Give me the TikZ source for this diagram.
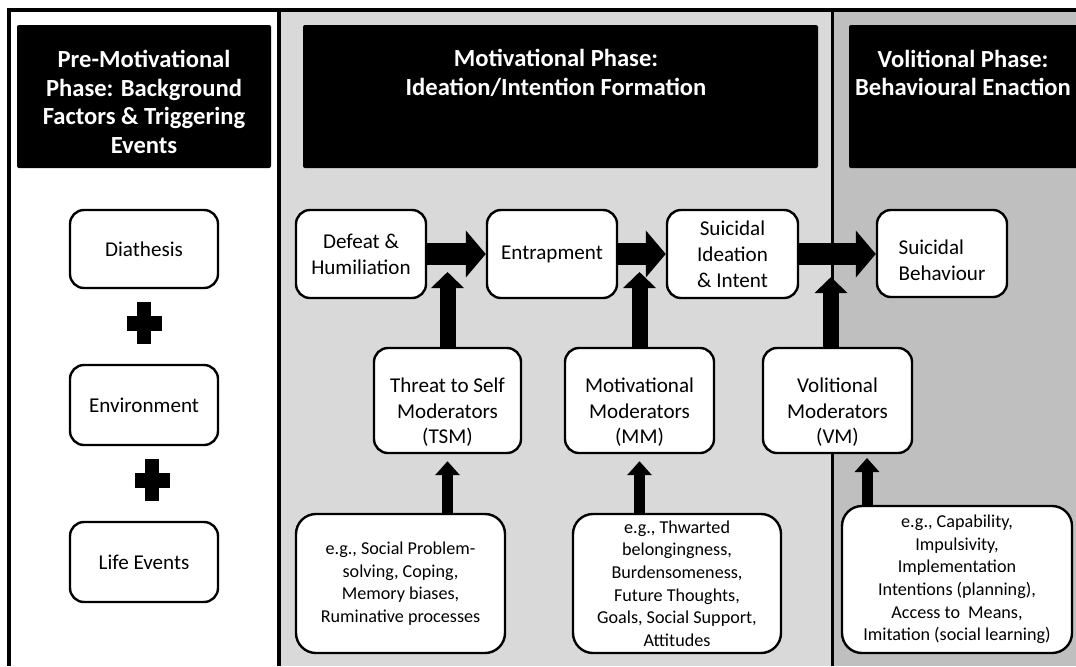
\documentclass[tikz,border=0pt]{standalone}
\usepackage{fontspec}
\setmainfont{Carlito}
\usepackage{tikz}
\usetikzlibrary{arrows.meta,positioning,calc}
\definecolor{motgrey}{HTML}{D9D9D9}
\definecolor{volgrey}{HTML}{BFBFBF}
\newcommand{\toppad}[1]{\rule{0pt}{#1}}
\tikzstyle{phase}=[fill=black, rounded corners=0.5mm]
\tikzstyle{phasetext}=[text=white, align=center, inner sep=0pt, font=\fontsize{17.5}{20.5}\selectfont\bfseries]
\tikzstyle{stagebox}=[draw, line width=0.6mm, rounded corners=3.5mm, fill=white, align=center, inner sep=0pt, font=\fontsize{15}{18.4}\selectfont]
\tikzstyle{modbox}=[stagebox, minimum height=26.25mm]
\tikzstyle{egbox}=[stagebox, rounded corners=5mm, font=\fontsize{12.9}{16.1}\selectfont]
\tikzstyle{fatarrow}=[line width=5.5mm, -{Triangle[width=11.5mm, length=5mm]}]
\tikzstyle{modarrow}=[line width=4mm, -{Triangle[width=8mm, length=4mm]}]
\tikzstyle{egarrow}=[line width=2.75mm, -{Triangle[width=6mm, length=3.5mm]}]
\tikzset{plussign/.pic={
    \fill (-17.5,-7.5) rectangle (17.5,7.5);
    \fill (-7,-21) rectangle (7,21);
}}

\begin{document}
\begin{tikzpicture}[x=0.25mm, y=-0.25mm]

\clip (0,0) rectangle (1076,666);

% panels
\fill[motgrey] (279,10) rectangle (832,666);
\fill[volgrey] (832,10) rectangle (1076,666);
\draw[line width=0.8mm, line join=miter] (9,666) -- (9,10) -- (1076,10);
\draw[line width=1mm] (279,10) -- (279,666);
\draw[line width=0.75mm] (832,10) -- (832,666);

% phase headers
\fill[phase] (17,25) rectangle (271,168);
\fill[phase] (303,25) rectangle (818,168);
\fill[phase] (849,25) rectangle (1090,168);
\node[phasetext] (pretitle) at (144,102) {Pre-Motivational\\Phase: Background\\Factors \& Triggering\\Events};
\node[phasetext] (mottitle) at (556,73) {Motivational Phase:\\Ideation/Intention Formation};
\node[phasetext] (voltitle) at (963,73) {Volitional Phase:\\Behavioural Enaction};

% background factors
\node[stagebox, minimum width=37mm, minimum height=19.5mm] (diath) at (144,249) {Diathesis};
\node[stagebox, minimum width=37mm, minimum height=20mm] (env) at (144,405) {Environment};
\node[stagebox, minimum width=37mm, minimum height=20mm] (life) at (144,562) {Life Events};
\pic at (144,323) {plussign};
\pic at (152,480) {plussign};

% main pathway
\node[stagebox, minimum width=32.5mm, minimum height=22mm] (defeat) at (361,254) {Defeat \&\\Humiliation};
\node[stagebox, minimum width=32.5mm, minimum height=22mm] (entrap) at (552,254) {Entrapment};
\node[stagebox, minimum width=32.75mm, minimum height=22mm] (ideat) at (732.5,254) {Suicidal\\Ideation\\\& Intent};
\node[stagebox, align=left, minimum width=32.5mm, minimum height=21.75mm] (behav) at (942,253.5) {\toppad{6.9mm}Suicidal\\Behaviour};

% moderators
\node[modbox, minimum width=36.75mm] (tsm) at (447.5,400.5) {\toppad{9.5mm}Threat to Self\\Moderators\\(TSM)};
\node[modbox, minimum width=37.25mm] (mm) at (639.5,400.5) {\toppad{9.5mm}Motivational\\Moderators\\(MM)};
\node[modbox, minimum width=37.25mm] (vm) at (837.5,400.5) {\toppad{9.5mm}Volitional\\Moderators\\(VM)};

% examples
\node[egbox, minimum width=52.25mm, minimum height=34.75mm] (egtsm) at (400.5,583.5) {e.g., Social Problem-\\solving, Coping,\\Memory biases,\\Ruminative processes};
\node[egbox, minimum width=52mm, minimum height=34.75mm] (egmm) at (677,583.5) {e.g., Thwarted\\belongingness,\\Burdensomeness,\\Future Thoughts,\\Goals, Social Support,\\Attitudes};
\node[egbox, minimum width=57.5mm, minimum height=36.75mm] (egvm) at (957,579.5) {e.g., Capability,\\Impulsivity,\\Implementation\\Intentions (planning),\\Access to~ Means,\\Imitation (social learning)};

% arrows
\draw[fatarrow] (defeat.east) -- (entrap.west);
\draw[fatarrow] (entrap.east) -- (ideat.west);
\draw[fatarrow] (ideat.east) -- (ideat.east -| behav.west);

\coordinate (tsmtip) at (447.5,272);
\coordinate (mmtip) at (639.5,272);
\coordinate (vmfoot) at (831,348);
\coordinate (vmtip) at (831,277);
\draw[modarrow] (tsm.north) -- (tsmtip);
\draw[modarrow] (mm.north) -- (mmtip);
\draw[modarrow] (vmfoot) -- (vmtip);

\coordinate (vmlow) at (867,506);
\draw[egarrow] (egtsm.north -| tsm.south) -- ($(tsm.south)+(0,7)$);
\draw[egarrow] (egmm.north -| mm.south) -- ($(mm.south)+(0,7)$);
\draw[egarrow] (vmlow) -- (vmlow |- 0,458);

\end{tikzpicture}
\end{document}
